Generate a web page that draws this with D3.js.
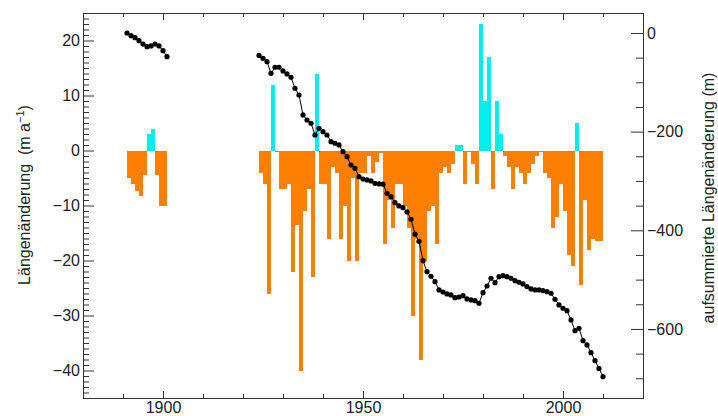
<!DOCTYPE html>
<html><head><meta charset="utf-8">
<script src="https://cdn.jsdelivr.net/npm/d3@7"></script>
<style>
body{margin:0;background:#fff;overflow:hidden}
svg{display:block}
text{font-family:"Liberation Sans",Arial,Helvetica,sans-serif;fill:#222;white-space:pre}
</style>
</head><body>
<svg id="chart" width="718" height="416"></svg>
<script>
// ---- data ----
// annual length change (m/a), bar for year Y spans [Y, Y+1]
const barYears1 = [1891,1892,1893,1894,1895,1896,1897,1898,1899,1900];
const barValues1 = [-5,-6,-7.3,-8.2,-4.5,3,4,-4.4,-10,-10];
const barYears2 = [1924,1925,1926,1927,1928,1929,1930,1931,1932,1933,1934,1935,1936,1937,1938,1939,1940,1941,1942,1943,1944,1945,1946,1947,1948,1949,
  1950,1951,1952,1953,1954,1955,1956,1957,1958,1959,1960,1961,1962,1963,1964,1965,1966,1967,1968,1969,
  1970,1971,1972,1973,1974,1975,1976,1977,1978,1979,1980,1981,1982,1983,1984,1985,1986,1987,1988,1989,
  1990,1991,1992,1993,1994,1995,1996,1997,1998,1999,2000,2001,2002,2003,2004,2005,2006,2007,2008,2009];
const barValues2 = [-4,-6,-26,12,-0.3,-7,-7,-6,-22,-13.6,-40,-11,-7,-23,14,-6,-6,-16,-3,-4,-16,-10,-20,-5,-20,-4,
  -4,-1,-4,-2,-0.5,-17,-9,-14,-6,-6,-10,-14,-30,-16,-38,-20,-11,-10,-17,-4,
  -3,-4,-2.5,1,1,-6,-0.3,-2.5,-6,23,9,17,-7,9,3,-1,-3,-7,-3,-4,
  -6,-4,-2.4,-1,-0.2,-4,-5,-14,-12,-6,-11,-19,-21,5,-24.5,-9,-18,-16,-16.4,-16.4];

// cumulative length change (m)
const cumYears1 = [1891,1892,1893,1894,1895,1896,1897,1898,1899,1900,1901];
const cumValues1 = [0,-5.5,-9.5,-15.6,-22.3,-27.8,-26.3,-22.3,-26.3,-35.9,-48];
const cumYears2 = [1924,1925,1926,1927,1928,1929,1930,1931,1932,1933,1934,1935,1936,1937,1938,1939,1940,1941,1942,1943,1944,1945,1946,1947,1948,1949,
  1950,1951,1952,1953,1954,1955,1956,1957,1958,1959,1960,1961,1962,1963,1964,1965,1966,1967,1968,1969,
  1970,1971,1972,1973,1974,1975,1976,1977,1978,1979,1980,1981,1982,1983,1984,1985,1986,1987,1988,1989,
  1990,1991,1992,1993,1994,1995,1996,1997,1998,1999,2000,2001,2002,2003,2004,2005,2006,2007,2008,2009,2010];
const cumValues2 = [-45.6,-51.3,-58.2,-81.7,-69.5,-69.5,-77,-83.1,-89.8,-112.1,-125.7,-166.2,-176.4,-183,-206.8,-193.2,-200.1,-206.8,-220.3,-223.6,-227,-240.6,-250.8,-267.6,-274.3,-291.3,
  -296,-298,-300,-304.7,-306.1,-306.5,-325,-331.8,-344,-350.7,-354.1,-362.8,-377.6,-407.8,-422.2,-461.6,-483.9,-493.2,-504.2,-521,
  -525.1,-529.1,-531.1,-536.6,-535.2,-532.5,-539.2,-541.2,-542.6,-547.9,-526.4,-512.9,-497.2,-506.2,-494,-492,-494,-497.2,-502.1,-505.3,
  -508.8,-514.2,-518.9,-520.9,-520.9,-522.3,-524.4,-527.6,-539.8,-551.4,-558.1,-562.9,-581.8,-603.5,-598.6,-623.8,-632.5,-648.1,-664.3,-680.1,-696.7];

const leftMajorTicks = [-40,-30,-20,-10,0,10,20];
const rightMajorTicks = [0,-200,-400,-600];
const bottomLabelTicks = [1900,1950,2000];

const leftLabel = "Längenänderung  (m a";
const rightLabel = "aufsummierte Längenänderung (m)";

// ---- layout ----
const svg = d3.select("#chart");
const L = 83, R = 643, T = 13, B = 398;
const x = d3.scaleLinear().domain([1880, 2020]).range([L, R]);
const yL = d3.scaleLinear().domain([-45, 25]).range([B, T]);
const yR = d3.scaleLinear().domain([-740, 40.5]).range([B, T]);

const ORANGE = "#ff8000", CYAN = "#00eeee";

// bars
const bars = barYears1.map((yr,i)=>({yr, v:barValues1[i]}))
  .concat(barYears2.map((yr,i)=>({yr, v:barValues2[i]})));
svg.append("g").attr("shape-rendering","crispEdges").selectAll("rect").data(bars).join("rect")
  .attr("x", d=>x(d.yr))
  .attr("width", d=>x(d.yr+1)-x(d.yr))
  .attr("y", d=>yL(Math.max(0,d.v)))
  .attr("height", d=>Math.abs(yL(d.v)-yL(0)))
  .attr("fill", d=>d.v>=0?CYAN:ORANGE);

// cumulative line
const segs = [cumYears1.map((yr,i)=>[yr,cumValues1[i]]), cumYears2.map((yr,i)=>[yr,cumValues2[i]])];
const line = d3.line().x(d=>x(d[0])).y(d=>yR(d[1]));
segs.forEach(s=>{
  svg.append("path").attr("d", line(s)).attr("fill","none").attr("stroke","#000").attr("stroke-width",1);
  svg.append("g").selectAll("circle").data(s).join("circle")
    .attr("cx",d=>x(d[0])).attr("cy",d=>yR(d[1])).attr("r",2.6).attr("fill","#000");
});

// axes
const AX = "#333";
function styleAxis(g){ g.select(".domain").remove(); g.selectAll("line").attr("stroke",AX); g.selectAll("text").attr("font-size",16).attr("fill","#222").attr("font-family",'"Liberation Sans",Arial,sans-serif'); }

const leftMinor = d3.range(-45, 26).filter(v=>v%10!==0);
svg.append("g").attr("transform",`translate(${L},0)`).call(d3.axisLeft(yL).tickValues(leftMinor).tickSizeInner(-6).tickSizeOuter(0).tickFormat("")).call(styleAxis);
svg.append("g").attr("transform",`translate(${L},0)`).call(d3.axisLeft(yL).tickValues(leftMajorTicks).tickSizeInner(-11).tickSizeOuter(0).tickPadding(3)).call(styleAxis);

const rightMinor = d3.range(-700, 1, 50).filter(v=>v%200!==0);
svg.append("g").attr("transform",`translate(${R},0)`).call(d3.axisRight(yR).tickValues(rightMinor).tickSizeInner(-7).tickSizeOuter(0).tickFormat("")).call(styleAxis);
svg.append("g").attr("transform",`translate(${R},0)`).call(d3.axisRight(yR).tickValues(rightMajorTicks).tickSizeInner(-12).tickSizeOuter(0).tickPadding(4)).call(styleAxis);

const decades = d3.range(1880, 2021, 10);
const minorDec = decades.filter(v=>v%50!==0);
const majorDec = decades.filter(v=>v%50===0);
svg.append("g").attr("transform",`translate(0,${B})`).call(d3.axisBottom(x).tickValues(minorDec).tickSizeInner(-4).tickSizeOuter(0).tickFormat("")).call(styleAxis);
svg.append("g").attr("transform",`translate(0,${B})`).call(d3.axisBottom(x).tickValues(bottomLabelTicks).tickSizeInner(-7).tickSizeOuter(0).tickPadding(4).tickFormat(d3.format("d"))).call(styleAxis);
svg.append("g").attr("transform",`translate(0,${T})`).call(d3.axisTop(x).tickValues(minorDec).tickSizeInner(-4).tickSizeOuter(0).tickFormat("")).call(styleAxis);
svg.append("g").attr("transform",`translate(0,${T})`).call(d3.axisTop(x).tickValues(majorDec).tickSizeInner(-7).tickSizeOuter(0).tickFormat("")).call(styleAxis);

// frame
svg.append("rect").attr("x",L).attr("y",T).attr("width",R-L).attr("height",B-T)
  .attr("fill","none").attr("stroke",AX).attr("stroke-width",1).attr("shape-rendering","crispEdges");

// axis titles
const lt = svg.append("text").attr("transform",`translate(30,195) rotate(-90)`)
  .attr("text-anchor","middle").attr("font-size",16);
lt.append("tspan").text(leftLabel);
lt.append("tspan").attr("font-size",11).attr("dy",-6).text("−1");
lt.append("tspan").attr("dy",6).text(")");

svg.append("text").attr("transform",`translate(714,198) rotate(-90)`)
  .attr("text-anchor","middle").attr("font-size",16).text(rightLabel);
</script>
</body></html>
